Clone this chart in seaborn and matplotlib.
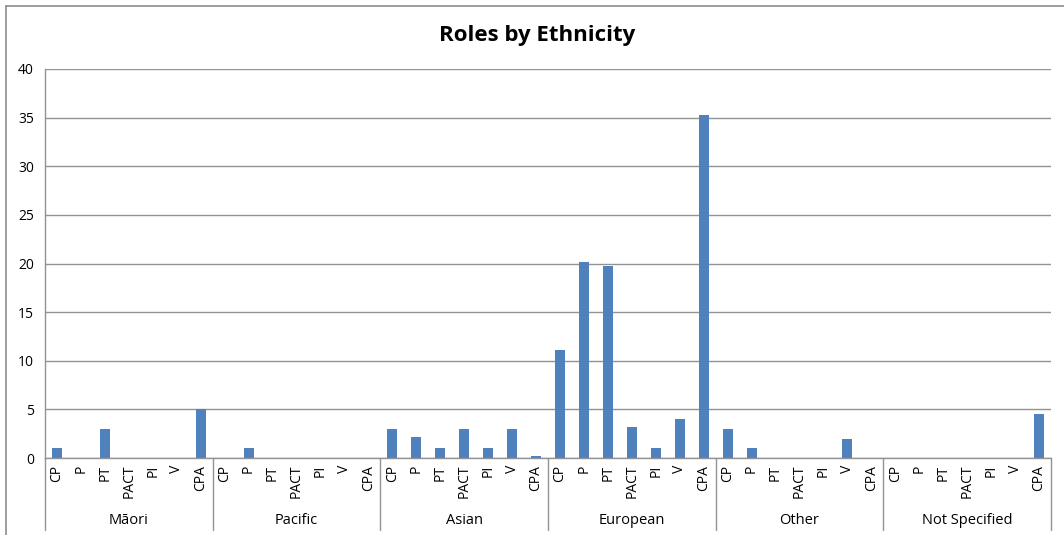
import matplotlib
matplotlib.use("Agg")
import matplotlib.pyplot as plt
import matplotlib.transforms as mtransforms
from matplotlib.lines import Line2D
import seaborn as sns
import pandas as pd

# Survey counts of roles held, split by ethnicity
groups = ["Māori", "Pacific", "Asian", "European", "Other", "Not Specified"]
roles = ["CP", "P", "PT", "PACT", "PI", "V", "CPA"]

maori = [1, 0, 3, 0, 0, 0, 5]
pacific = [0, 1, 0, 0, 0, 0, 0]
asian = [3, 2.2, 1, 3, 1, 3, 0.2]
european = [11.1, 20.2, 19.7, 3.2, 1, 4, 35.3]
other = [3, 1, 0, 0, 0, 2, 0]
not_specified = [0, 0, 0, 0, 0, 0, 4.5]

y_ticks = [0, 5, 10, 15, 20, 25, 30, 35, 40]
title = "Roles by Ethnicity"

series = [maori, pacific, asian, european, other, not_specified]
rows = []
for g, vals in zip(groups, series):
    for r, v in zip(roles, vals):
        rows.append({"key": f"{g}|{r}", "group": g, "role": r, "value": v})
df = pd.DataFrame(rows)

sns.set_theme(style="white")
plt.rcParams["font.family"] = ["Open Sans", "DejaVu Sans"]

W, H = 1064, 535
fig = plt.figure(figsize=(W / 100, H / 100), dpi=100)
ax = fig.add_axes([45 / W, 1 - 458 / H, (1051 - 45) / W, (458 - 69) / H])

bar_color = "#4F81BD"
sns.barplot(data=df, x="key", y="value", order=list(df["key"]), color=bar_color,
            width=0.42, saturation=1, ax=ax, edgecolor="none")

n = len(df)
ax.set_xlim(-0.5, n - 0.5)
ax.set_ylim(0, 40)
ax.set_yticks(y_ticks)
ax.set_yticklabels([str(t) for t in y_ticks], fontsize=10, color="#000000")
ax.tick_params(axis="y", length=0, pad=8)
ax.yaxis.grid(True, color="#939393", linewidth=1.0)
ax.set_axisbelow(True)

ax.set_xticks(range(n))
ax.set_xticklabels(list(df["role"]), rotation=90, fontsize=10, color="#000000",
                   va="top", ha="center")
ax.tick_params(axis="x", length=0, pad=5)
ax.set_xlabel("")
ax.set_ylabel("")

for side in ["top", "right"]:
    ax.spines[side].set_visible(False)
for side in ["left", "bottom"]:
    ax.spines[side].set_color("#939393")
    ax.spines[side].set_linewidth(1.0)

# Group separators and group names below the category labels
trans = mtransforms.blended_transform_factory(ax.transData, ax.transAxes)
sep_bottom = -(530 - 458) / (458 - 69)
n_roles = len(roles)
for i in range(len(groups) + 1):
    xb = i * n_roles - 0.5
    ax.plot([xb, xb], [0, sep_bottom], transform=trans, color="#939393",
            linewidth=1.0, clip_on=False)
label_y = -(520 - 458) / (458 - 69)
for i, g in enumerate(groups):
    xc = i * n_roles + (n_roles - 1) / 2
    ax.text(xc, label_y, g, transform=trans, ha="center", va="center",
            fontsize=10.5, color="#000000")

fig.text(537 / W, 1 - 35 / H, title, ha="center", va="center",
         fontsize=16, fontweight="bold", color="#000000")

# Chart frame
fig.add_artist(Line2D([6 / W, 1.0], [1 - 6 / H, 1 - 6 / H], transform=fig.transFigure,
                      color="#8C8C8C", linewidth=1.2))
fig.add_artist(Line2D([6 / W, 6 / W], [0.0, 1 - 6 / H], transform=fig.transFigure,
                      color="#8C8C8C", linewidth=1.2))

fig.savefig("out.png", dpi=100, facecolor="white")
